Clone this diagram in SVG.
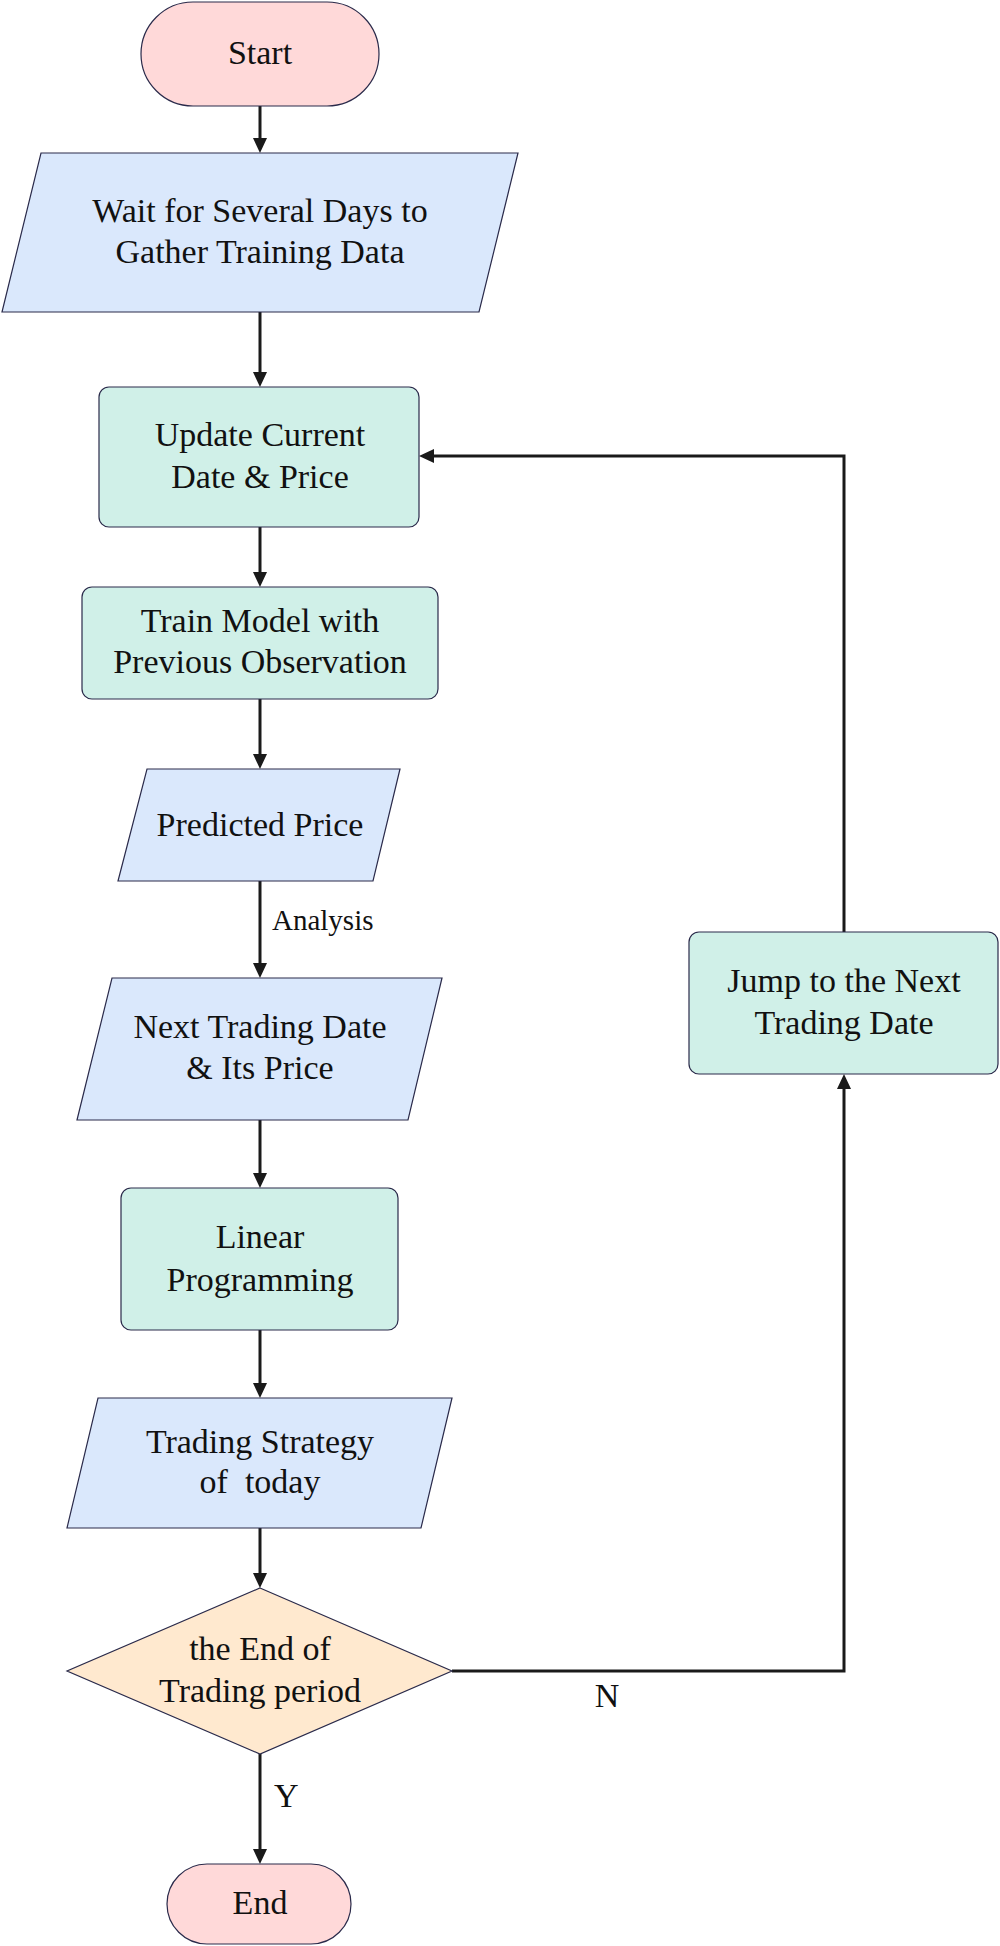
<svg xmlns="http://www.w3.org/2000/svg" width="1000" height="1946" viewBox="0 0 1000 1946">
<style>
  .term { fill: #ffd9d9; stroke: #2a2a4a; stroke-width: 1.2; }
  .io { fill: #dae8fc; stroke: #2a2a4a; stroke-width: 1.2; }
  .proc { fill: #d0f0e8; stroke: #2a2a4a; stroke-width: 1.2; }
  .dec { fill: #ffe9cf; stroke: #2a2a4a; stroke-width: 1.2; }
  .t { font-family: "Liberation Serif", "Times New Roman", serif; font-size: 34px; fill: #111111; text-anchor: middle; }
  .lbl { font-family: "Liberation Serif", "Times New Roman", serif; fill: #111111; }
  .edge { fill: none; stroke: #1a1a1a; stroke-width: 3; }
</style>
<defs>
  <marker id="arr" viewBox="0 0 15 14" markerWidth="15" markerHeight="14" refX="11" refY="7" orient="auto" markerUnits="userSpaceOnUse">
    <path d="M0,0 L15,7 L0,14 z" fill="#1a1a1a"/>
  </marker>
</defs>
<rect width="1000" height="1946" fill="#ffffff"/>

<g id="connectors">
  <path class="edge" d="M260,106 L260,149" marker-end="url(#arr)"/>
  <path class="edge" d="M260,312 L260,383" marker-end="url(#arr)"/>
  <path class="edge" d="M260,527 L260,583" marker-end="url(#arr)"/>
  <path class="edge" d="M260,699 L260,765" marker-end="url(#arr)"/>
  <path class="edge" d="M260,881 L260,974" marker-end="url(#arr)"/>
  <path class="edge" d="M260,1120 L260,1184" marker-end="url(#arr)"/>
  <path class="edge" d="M260,1330 L260,1394" marker-end="url(#arr)"/>
  <path class="edge" d="M260,1528 L260,1584" marker-end="url(#arr)"/>
  <path class="edge" d="M260,1754 L260,1860" marker-end="url(#arr)"/>
  <path class="edge" d="M452,1671 L844,1671 L844,1078" marker-end="url(#arr)"/>
  <path class="edge" d="M844,932 L844,456 L423,456" marker-end="url(#arr)"/>
  <text class="lbl" x="272" y="930" font-size="29">Analysis</text>
  <text class="lbl" x="274" y="1807" font-size="34">Y</text>
  <text class="lbl" x="607" y="1707" font-size="34" text-anchor="middle">N</text>
</g>

<g id="start">
  <rect class="term" x="141" y="2" width="238" height="104" rx="52"/>
  <text class="t" x="260" y="64">Start</text>
</g>

<g id="wait">
  <polygon class="io" points="41,153 518,153 479,312 2,312"/>
  <text class="t" x="260" y="222">Wait for Several Days to</text>
  <text class="t" x="260" y="263">Gather Training Data</text>
</g>

<g id="update">
  <rect class="proc" x="99" y="387" width="320" height="140" rx="10"/>
  <text class="t" x="260" y="446">Update Current</text>
  <text class="t" x="260" y="488">Date &amp; Price</text>
</g>

<g id="train">
  <rect class="proc" x="82" y="587" width="356" height="112" rx="10"/>
  <text class="t" x="260" y="632">Train Model with</text>
  <text class="t" x="260" y="673">Previous Observation</text>
</g>

<g id="predicted">
  <polygon class="io" points="147,769 400,769 373,881 118,881"/>
  <text class="t" x="260" y="836">Predicted Price</text>
</g>

<g id="next">
  <polygon class="io" points="112,978 442,978 408,1120 77,1120"/>
  <text class="t" x="260" y="1038">Next Trading Date</text>
  <text class="t" x="260" y="1079">&amp; Its Price</text>
</g>

<g id="linear">
  <rect class="proc" x="121" y="1188" width="277" height="142" rx="10"/>
  <text class="t" x="260" y="1248">Linear</text>
  <text class="t" x="260" y="1291">Programming</text>
</g>

<g id="strategy">
  <polygon class="io" points="98,1398 452,1398 421,1528 67,1528"/>
  <text class="t" x="260" y="1453">Trading Strategy</text>
  <text class="t" x="260" y="1493" xml:space="preserve">of  today</text>
</g>

<g id="decision">
  <polygon class="dec" points="260,1588 452,1671 260,1754 67,1671"/>
  <text class="t" x="260" y="1660">the End of</text>
  <text class="t" x="260" y="1702">Trading period</text>
</g>

<g id="end">
  <rect class="term" x="167" y="1864" width="184" height="80" rx="40"/>
  <text class="t" x="260" y="1914">End</text>
</g>

<g id="jump">
  <rect class="proc" x="689" y="932" width="309" height="142" rx="10"/>
  <text class="t" x="844" y="992">Jump to the Next</text>
  <text class="t" x="844" y="1034">Trading Date</text>
</g>
</svg>
